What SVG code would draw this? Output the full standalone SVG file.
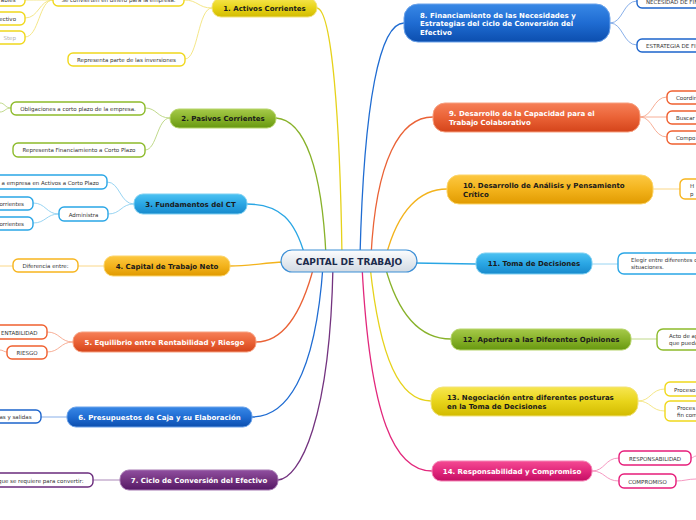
<svg xmlns="http://www.w3.org/2000/svg" width="696" height="520" viewBox="0 0 696 520">
<defs>
<linearGradient id="gY" x1="0" y1="0" x2="0" y2="1"><stop offset="0" stop-color="#f7e650"/><stop offset="0.5" stop-color="#e8d41a"/><stop offset="1" stop-color="#d2bb00"/></linearGradient>
<linearGradient id="gG" x1="0" y1="0" x2="0" y2="1"><stop offset="0" stop-color="#a6ca4a"/><stop offset="0.5" stop-color="#88b22a"/><stop offset="1" stop-color="#679810"/></linearGradient>
<linearGradient id="gLB" x1="0" y1="0" x2="0" y2="1"><stop offset="0" stop-color="#4cc2f2"/><stop offset="0.5" stop-color="#2aa6e4"/><stop offset="1" stop-color="#188acc"/></linearGradient>
<linearGradient id="gO" x1="0" y1="0" x2="0" y2="1"><stop offset="0" stop-color="#fdc842"/><stop offset="0.5" stop-color="#f3b31c"/><stop offset="1" stop-color="#e09a00"/></linearGradient>
<linearGradient id="gR" x1="0" y1="0" x2="0" y2="1"><stop offset="0" stop-color="#f68058"/><stop offset="0.5" stop-color="#ea6236"/><stop offset="1" stop-color="#d4441a"/></linearGradient>
<linearGradient id="gB" x1="0" y1="0" x2="0" y2="1"><stop offset="0" stop-color="#3888e6"/><stop offset="0.5" stop-color="#1f6cd2"/><stop offset="1" stop-color="#0c4eae"/></linearGradient>
<linearGradient id="gP" x1="0" y1="0" x2="0" y2="1"><stop offset="0" stop-color="#904fa0"/><stop offset="0.5" stop-color="#73337f"/><stop offset="1" stop-color="#551866"/></linearGradient>
<linearGradient id="gPk" x1="0" y1="0" x2="0" y2="1"><stop offset="0" stop-color="#f44a93"/><stop offset="0.5" stop-color="#e2287c"/><stop offset="1" stop-color="#c40e64"/></linearGradient>
<linearGradient id="gC" x1="0" y1="0" x2="0" y2="1"><stop offset="0" stop-color="#fcfdfe"/><stop offset="1" stop-color="#d2dae3"/></linearGradient>
<style>
.m{stroke-width:1}
.mt{font-family:"DejaVu Sans","Liberation Sans",sans-serif;font-size:7px;font-weight:bold}
.dk{fill:#1a1a1a}
.wh{fill:#ffffff}
.c{fill:#ffffff;stroke-width:1.4}
.ct{font-family:"DejaVu Sans","Liberation Sans",sans-serif;font-size:5.5px;fill:#333333}
.mid{text-anchor:middle}
.end{text-anchor:end}
.ln{fill:none;stroke-width:1.3}
.sl{fill:none;stroke-width:0.9}
</style>
</defs>

<g id="connectors">
<!-- main connectors -->
<path class="ln" stroke="#e6d21a" d="M342 256 C340 120 332 10 317 8"/>
<path class="ln" stroke="#88b22a" d="M326 256 C322 170 305 120 276 118"/>
<path class="ln" stroke="#2aa6e4" d="M305 256 C295 220 280 204 247 204"/>
<path class="ln" stroke="#f3b31c" d="M284 262 C262 263 250 266 230 266"/>
<path class="ln" stroke="#ea6236" d="M314 266 C300 320 280 342 256 342"/>
<path class="ln" stroke="#1f6cd2" d="M323 266 C315 380 285 417 252 417"/>
<path class="ln" stroke="#73337f" d="M333 266 C330 420 300 478 278 480"/>
<path class="ln" stroke="#1f6cd2" d="M360 256 C364 100 380 23 404 23"/>
<path class="ln" stroke="#ea6236" d="M371 256 C376 160 400 117 433 117"/>
<path class="ln" stroke="#f3b31c" d="M386 256 C398 210 420 189 447 189"/>
<path class="ln" stroke="#2aa6e4" d="M414 263 L476 264"/>
<path class="ln" stroke="#88b22a" d="M385 266 C398 315 420 339 451 339"/>
<path class="ln" stroke="#e6d21a" d="M370 266 C380 360 400 401 431 401"/>
<path class="ln" stroke="#e2287c" d="M362 266 C370 420 395 471 432 471"/>
<!-- sub connectors -->
<path class="sl" stroke="#f3e37a" d="M212 8 C198 8 198 0 184 0"/>
<path class="sl" stroke="#f3e37a" d="M212 8 C198 8 198 59 185 59"/>
<path class="sl" stroke="#f3e37a" d="M53 0 C39 0 39 0 25 0"/>
<path class="sl" stroke="#f3e37a" d="M53 0 C39 0 39 18 25 18"/>
<path class="sl" stroke="#f3e37a" d="M53 0 C39 0 39 37 25 37"/>
<path class="sl" stroke="#b9d57e" d="M170 118 C157 118 157 108 145 108"/>
<path class="sl" stroke="#b9d57e" d="M170 118 C157 118 157 150 145 150"/>
<path class="sl" stroke="#b9d57e" d="M11 108 C5 108 5 103 0 103"/>
<path class="sl" stroke="#b9d57e" d="M11 108 C5 108 5 112 0 112"/>
<path class="sl" stroke="#8ccff0" d="M134 204 C120 204 120 182 107 182"/>
<path class="sl" stroke="#8ccff0" d="M134 204 C121 204 121 214 108 214"/>
<path class="sl" stroke="#8ccff0" d="M59 214 C46 214 46 203 33 203"/>
<path class="sl" stroke="#8ccff0" d="M59 214 C46 214 46 223 33 223"/>
<path class="sl" stroke="#f9d37a" d="M104 266 L78 266"/>
<path class="sl" stroke="#f9d37a" d="M13 266 L0 266"/>
<path class="sl" stroke="#f6a58a" d="M73 342 C60 342 60 332 47 332"/>
<path class="sl" stroke="#f6a58a" d="M73 342 C60 342 60 352 47 352"/>
<path class="sl" stroke="#f6a58a" d="M7 352 C4 352 3 350 0 350"/>
<path class="sl" stroke="#7aa6e6" d="M67 417 L41 417"/>
<path class="sl" stroke="#a27cb0" d="M120 480 L93 480"/>
<path class="sl" stroke="#7aa6e6" d="M610 23 C623 23 623 1 637 1"/>
<path class="sl" stroke="#7aa6e6" d="M610 23 C623 23 623 45 637 45"/>
<path class="sl" stroke="#f6a58a" d="M640 117 C653 117 653 97 667 97"/>
<path class="sl" stroke="#f6a58a" d="M640 117 L667 117"/>
<path class="sl" stroke="#f6a58a" d="M640 117 C653 117 653 137 667 137"/>
<path class="sl" stroke="#f9d37a" d="M653 189 L680 189"/>
<path class="sl" stroke="#8ccff0" d="M592 264 L618 264"/>
<path class="sl" stroke="#b9d57e" d="M631 339 L657 339"/>
<path class="sl" stroke="#f3e37a" d="M638 401 C651 401 651 389 665 389"/>
<path class="sl" stroke="#f3e37a" d="M638 401 C651 401 651 411 665 411"/>
<path class="sl" stroke="#f48cba" d="M592 471 C605 471 605 458 619 458"/>
<path class="sl" stroke="#f48cba" d="M592 471 C605 471 605 481 619 481"/>
<path class="sl" stroke="#f48cba" d="M691 458 C693 458 694 456 696 456"/>
<path class="sl" stroke="#f48cba" d="M676 481 C684 481 688 479 696 479"/>
</g>

<g id="center">
<rect x="281" y="250" width="136" height="22" rx="11" fill="url(#gC)" stroke="#3d8fd6" stroke-width="1.2"/>
<text x="349" y="264.5" class="mid" font-family="DejaVu Sans, Liberation Sans, sans-serif" font-size="9" font-weight="bold" fill="#1c2b4c">CAPITAL DE TRABAJO</text>
</g>

<g id="n1">
<rect x="212" y="-2" width="105" height="19" rx="9" fill="url(#gY)" stroke="#f2e27a" class="m"/>
<text x="264.5" y="11" class="mt dk mid">1. Activos Corrientes</text>
</g>
<g id="n1a"><rect x="53" y="-8" width="131" height="14" rx="5" class="c" stroke="#f0d81c"/><text x="118.5" y="2" class="ct mid">Se convierten en dinero para la empresa.</text></g>
<g id="n1b"><rect x="68" y="53" width="117" height="13" rx="5" class="c" stroke="#f0d81c"/><text x="126.5" y="61.5" class="ct mid">Representa parte de las inversiones</text></g>
<g id="n1a1"><rect x="-30" y="-7" width="55" height="13" rx="5" class="c" stroke="#f0d81c"/><text x="15.5" y="2" class="ct end">ables</text></g>
<g id="n1a2"><rect x="-30" y="12" width="55" height="13" rx="5" class="c" stroke="#f0d81c"/><text x="16" y="20.5" class="ct end">ectivo</text></g>
<g id="n1a3"><rect x="-30" y="31" width="55" height="13" rx="5" class="c" stroke="#f0d81c"/><text x="16" y="39.5" class="ct end" style="fill:#b0b0b0">Step</text></g>

<g id="n2">
<rect x="170" y="109" width="106" height="19" rx="9" fill="url(#gG)" stroke="#b6d46a" class="m"/>
<text x="223" y="121" class="mt dk mid">2. Pasivos Corrientes</text>
</g>
<g id="n2a"><rect x="11" y="102" width="134" height="13" rx="5" class="c" stroke="#8dbb2b"/><text x="78" y="110.5" class="ct mid">Obligaciones a corto plazo de la empresa.</text></g>
<g id="n2b"><rect x="13" y="143" width="132" height="14" rx="5" class="c" stroke="#8dbb2b"/><text x="79" y="152" class="ct mid">Representa Financiamiento a Corto Plazo</text></g>

<g id="n3">
<rect x="134" y="194" width="113" height="20" rx="9" fill="url(#gLB)" stroke="#7fd0f2" class="m"/>
<text x="190.5" y="206.5" class="mt dk mid">3. Fundamentos del CT</text>
</g>
<g id="n3a"><rect x="-20" y="175" width="127" height="14" rx="5" class="c" stroke="#2aa6e6"/><text x="99" y="184.5" class="ct end">a empresa en Activos a Corto Plazo</text></g>
<g id="n3b"><rect x="59" y="207" width="49" height="14" rx="5" class="c" stroke="#2aa6e6"/><text x="83.5" y="216.5" class="ct mid">Administra</text></g>
<g id="n3b1"><rect x="-30" y="197" width="63" height="13" rx="5" class="c" stroke="#2aa6e6"/><text x="24" y="205.5" class="ct end">orrientes</text></g>
<g id="n3b2"><rect x="-30" y="217" width="63" height="13" rx="5" class="c" stroke="#2aa6e6"/><text x="24" y="225.5" class="ct end">orrientes</text></g>

<g id="n4">
<rect x="104" y="256" width="126" height="20" rx="9" fill="url(#gO)" stroke="#fcd56a" class="m"/>
<text x="167" y="268.5" class="mt dk mid">4. Capital de Trabajo Neto</text>
</g>
<g id="n4a"><rect x="13" y="259" width="65" height="13" rx="5" class="c" stroke="#f7b51e"/><text x="45.5" y="267.5" class="ct mid">Diferencia entre:</text></g>

<g id="n5">
<rect x="73" y="332" width="183" height="20" rx="9" fill="url(#gR)" stroke="#f7a080" class="m"/>
<text x="164.5" y="344.5" class="mt wh mid">5. Equilibrio entre Rentabilidad y Riesgo</text>
</g>
<g id="n5a"><rect x="-20" y="325" width="67" height="14" rx="5" class="c" stroke="#f0602f"/><text x="37.5" y="334.5" class="ct end">ENTABILIDAD</text></g>
<g id="n5b"><rect x="7" y="346" width="40" height="13" rx="5" class="c" stroke="#f0602f"/><text x="27" y="354.5" class="ct mid">RIESGO</text></g>

<g id="n6">
<rect x="67" y="407" width="185" height="20" rx="9" fill="url(#gB)" stroke="#6aa2ea" class="m"/>
<text x="159.5" y="419.5" class="mt wh mid">6. Presupuestos de Caja y su Elaboración</text>
</g>
<g id="n6a"><rect x="-20" y="410" width="61" height="13" rx="5" class="c" stroke="#1c64cc"/><text x="31.5" y="418.5" class="ct end">as y salidas</text></g>

<g id="n7">
<rect x="120" y="470" width="158" height="20" rx="9" fill="url(#gP)" stroke="#a679b2" class="m"/>
<text x="199" y="482.5" class="mt wh mid">7. Ciclo de Conversión del Efectivo</text>
</g>
<g id="n7a"><rect x="-20" y="473" width="113" height="14" rx="5" class="c" stroke="#6a2b7c"/><text x="83.5" y="482.5" class="ct end">que se requiere para convertir:</text></g>

<g id="n8">
<rect x="404" y="4" width="206" height="38" rx="14" fill="url(#gB)" stroke="#6aa2ea" class="m"/>
<text x="420" y="17.5" class="mt wh">8. Financiamiento de las Necesidades y</text>
<text x="420" y="26" class="mt wh">Estrategias del ciclo de Conversión del</text>
<text x="420" y="34.5" class="mt wh">Efectivo</text>
</g>
<g id="n8a"><rect x="637" y="-6" width="90" height="14" rx="5" class="c" stroke="#1c64cc"/><text x="646" y="3.5" class="ct">NECESIDAD DE FINANCIAMIENTO</text></g>
<g id="n8b"><rect x="637" y="39" width="90" height="13" rx="5" class="c" stroke="#1c64cc"/><text x="646" y="47.5" class="ct">ESTRATEGIA DE FINANCIAMIENTO</text></g>

<g id="n9">
<rect x="433" y="103" width="207" height="29" rx="12" fill="url(#gR)" stroke="#f7a080" class="m"/>
<text x="449" y="116" class="mt wh">9. Desarrollo de la Capacidad para el</text>
<text x="449" y="124.5" class="mt wh">Trabajo Colaborativo</text>
</g>
<g id="n9a"><rect x="667" y="91" width="60" height="13" rx="5" class="c" stroke="#f0602f"/><text x="676" y="99.5" class="ct">Coordinar</text></g>
<g id="n9b"><rect x="667" y="111" width="60" height="13" rx="5" class="c" stroke="#f0602f"/><text x="676" y="119.5" class="ct">Buscar</text></g>
<g id="n9c"><rect x="667" y="131" width="60" height="13" rx="5" class="c" stroke="#f0602f"/><text x="676" y="139.5" class="ct">Compo</text></g>

<g id="n10">
<rect x="447" y="175" width="206" height="29" rx="12" fill="url(#gO)" stroke="#fcd56a" class="m"/>
<text x="463" y="188" class="mt dk">10. Desarrollo de Análisis y Pensamiento</text>
<text x="463" y="196.5" class="mt dk">Crítico</text>
</g>
<g id="n10a"><rect x="680" y="179" width="60" height="20" rx="5" class="c" stroke="#f7b51e"/><text x="690" y="188" class="ct">H</text><text x="690" y="195.5" class="ct">p</text></g>

<g id="n11">
<rect x="476" y="253" width="116" height="21" rx="9" fill="url(#gLB)" stroke="#7fd0f2" class="m"/>
<text x="534" y="266" class="mt dk mid">11. Toma de Decisiones</text>
</g>
<g id="n11a"><rect x="618" y="253" width="100" height="21" rx="6" class="c" stroke="#2aa6e6"/><text x="631" y="262" class="ct">Elegir entre diferentes o</text><text x="631" y="269" class="ct">situaciones.</text></g>

<g id="n12">
<rect x="451" y="329" width="180" height="21" rx="9" fill="url(#gG)" stroke="#b6d46a" class="m"/>
<text x="541" y="342" class="mt dk mid">12. Apertura a las Diferentes Opiniones</text>
</g>
<g id="n12a"><rect x="657" y="329" width="60" height="21" rx="6" class="c" stroke="#8dbb2b"/><text x="669" y="338" class="ct">Acto de ap</text><text x="669" y="345" class="ct">que pueda</text></g>

<g id="n13">
<rect x="431" y="387" width="207" height="29" rx="12" fill="url(#gY)" stroke="#f2e27a" class="m"/>
<text x="447" y="400" class="mt dk">13. Negociación entre diferentes posturas</text>
<text x="447" y="408.5" class="mt dk">en la Toma de Decisiones</text>
</g>
<g id="n13a"><rect x="665" y="382" width="60" height="14" rx="5" class="c" stroke="#f0d81c"/><text x="674" y="391.5" class="ct">Proceso</text></g>
<g id="n13b"><rect x="665" y="401" width="60" height="20" rx="5" class="c" stroke="#f0d81c"/><text x="677" y="410" class="ct">Proces</text><text x="677" y="417" class="ct">fin com</text></g>

<g id="n14">
<rect x="432" y="461" width="160" height="20" rx="9" fill="url(#gPk)" stroke="#f585b6" class="m"/>
<text x="512" y="473.5" class="mt wh mid">14. Responsabilidad y Compromiso</text>
</g>
<g id="n14a"><rect x="619" y="451" width="72" height="14" rx="5" class="c" stroke="#e61c7a"/><text x="655" y="460.5" class="ct mid">RESPONSABILIDAD</text></g>
<g id="n14b"><rect x="619" y="474" width="57" height="14" rx="5" class="c" stroke="#e61c7a"/><text x="647.5" y="483.5" class="ct mid">COMPROMISO</text></g>
</svg>
